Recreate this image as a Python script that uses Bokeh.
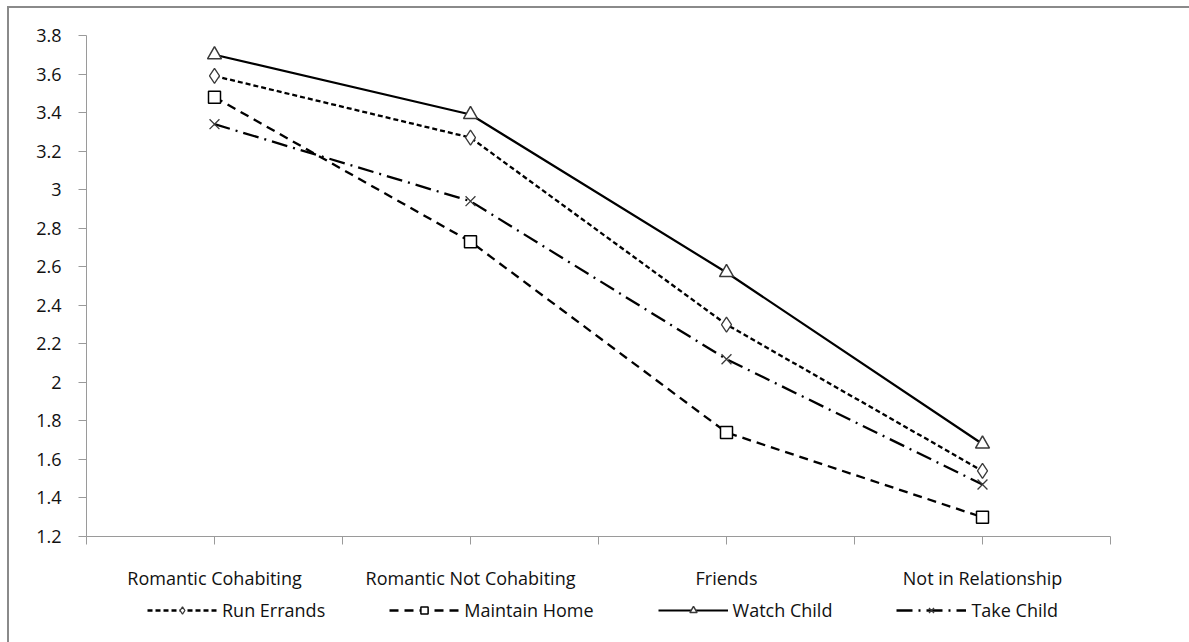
from bokeh.plotting import figure
from bokeh.layouts import column
from bokeh.models import (Legend, LegendItem, FixedTicker, CustomJSTickFormatter,
                          ColumnDataSource, Range1d)
from bokeh.embed import file_html
from bokeh.resources import INLINE

categories = ["Romantic Cohabiting", "Romantic Not Cohabiting", "Friends", "Not in Relationship"]
run_errands = [3.59, 3.27, 2.30, 1.54]
maintain_home = [3.48, 2.73, 1.74, 1.30]
watch_child = [3.70, 3.39, 2.57, 1.68]
take_child = [3.34, 2.94, 2.12, 1.47]
y_ticks = [1.2, 1.4, 1.6, 1.8, 2.0, 2.2, 2.4, 2.6, 2.8, 3.0, 3.2, 3.4, 3.6, 3.8]
series_names = ["Run Errands", "Maintain Home", "Watch Child", "Take Child"]

n = len(categories)
xpos = [i + 0.5 for i in range(n)]
FONT = "Open Sans"
AXIS_COLOR = "#9a9a9a"
TXT = "#111111"
MK = "#3a3a3a"

# style per series (line + marker)
styles = [
    dict(dash="5 3", lw=2.3, marker="diamond", size=15, mlc=MK, mlw=1.3),
    dict(dash="9 6", lw=2.3, marker="square", size=12, mlc="black", mlw=1.5),
    dict(dash="solid", lw=2.2, marker="triangle", size=14, mlc=MK, mlw=1.5),
    dict(dash="16 6 2 6", lw=2.3, marker="x", size=14, mlc=MK, mlw=1.3),
]

p = figure(frame_width=1024, frame_height=501, output_backend="svg", toolbar_location=None,
           x_range=Range1d(0, n), y_range=Range1d(y_ticks[0], y_ticks[-1]),
           min_border_left=77, min_border_top=27, min_border_right=100, min_border_bottom=57)
p.outline_line_color = None
p.xgrid.visible = False
p.ygrid.visible = False
p.background_fill_color = "white"
p.border_fill_color = "white"

p.yaxis.ticker = FixedTicker(ticks=y_ticks)
p.yaxis.formatter = CustomJSTickFormatter(code="return String(parseFloat(tick.toFixed(1)));")
p.xaxis.ticker = FixedTicker(ticks=[i * 0.5 for i in range(2 * n + 1)])
overrides = {}
for i in range(2 * n + 1):
    overrides[i * 0.5] = ""
for i, c in enumerate(categories):
    overrides[i + 0.5] = c
p.xaxis.major_label_overrides = overrides
for ax in (p.xaxis, p.yaxis):
    ax.axis_line_color = AXIS_COLOR
    ax.axis_line_width = 1
    ax.major_tick_line_color = AXIS_COLOR
    ax.major_tick_in = 0
    ax.major_tick_out = 8
    ax.minor_tick_line_color = None
    ax.major_label_text_font = FONT
    ax.major_label_text_font_size = "18px"
    ax.major_label_text_color = TXT
p.yaxis.major_label_standoff = 17
p.xaxis.major_label_standoff = 21

src = ColumnDataSource(dict(x=xpos, s0=run_errands, s1=maintain_home,
                            s2=watch_child, s3=take_child))

for k, st in enumerate(styles):
    p.line("x", f"s{k}", source=src, line_color="black", line_width=st["lw"],
           line_dash=st["dash"])
    kw = dict(fill_color="white") if st["marker"] != "x" else {}
    p.scatter("x", f"s{k}", source=src, marker=st["marker"], size=st["size"],
              line_color=st["mlc"], line_width=st["mlw"], **kw)

# legend strip below the chart (its series renderers lie outside its empty view)
W = 77 + 1024 + 100
p2 = figure(width=W, height=50, output_backend="svg", toolbar_location=None,
            x_axis_type=None, y_axis_type=None, min_border=0,
            x_range=Range1d(0, n), y_range=Range1d(-1, 0))
p2.outline_line_color = None
p2.xgrid.visible = False
p2.ygrid.visible = False
items = []
for k, (name, st) in enumerate(zip(series_names, styles)):
    rl = p2.line("x", f"s{k}", source=src, line_color="black", line_width=st["lw"],
                 line_dash=st["dash"])
    kw = dict(fill_color="white") if st["marker"] != "x" else {}
    rm = p2.scatter("x", f"s{k}", source=src, marker=st["marker"], size=st["size"] - 4,
                    line_color=st["mlc"], line_width=st["mlw"], **kw)
    items.append(LegendItem(label=name, renderers=[rl, rm]))

legend = Legend(items=items, orientation="horizontal", location=(61, 21), spacing=64,
                glyph_width=70, glyph_height=18, label_standoff=5, label_height=18,
                label_text_font=FONT, label_text_font_size="18px", label_text_color=TXT,
                border_line_color=None, background_fill_alpha=0, padding=0, margin=0)
p2.add_layout(legend, "center")

layout = column(p, p2, spacing=0, margin=(6, 0, 0, 7),
                styles={"border-left": "2px solid #8a8a8a", "border-top": "2px solid #8a8a8a"})

open("out.html", "w").write(file_html(layout, INLINE))
